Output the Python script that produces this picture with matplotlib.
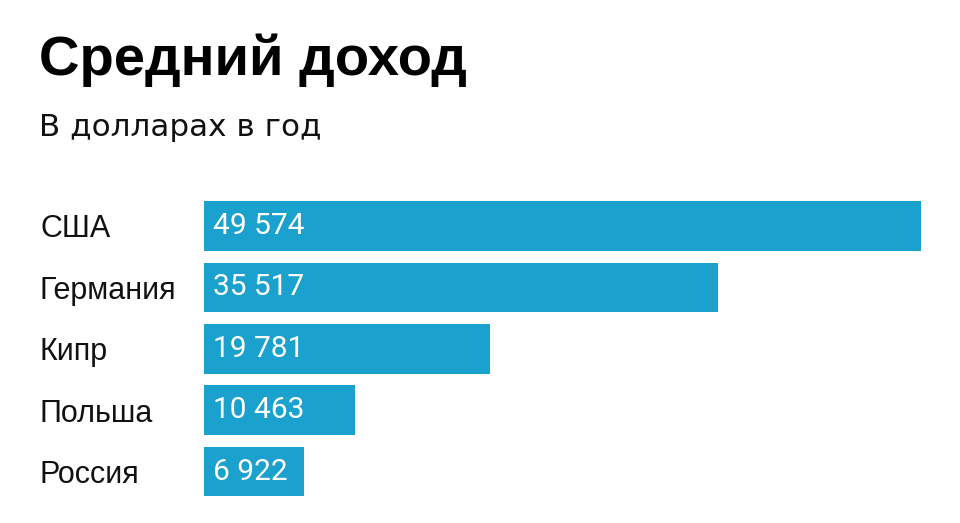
import matplotlib
matplotlib.use("Agg")
import matplotlib.pyplot as plt
from matplotlib.transforms import blended_transform_factory, ScaledTranslation

countries = ["США", "Германия", "Кипр", "Польша", "Россия"]
values = [49574, 35517, 19781, 10463, 6922]
value_labels = ["49 574", "35 517", "19 781", "10 463", "6 922"]

title = "Средний доход"
subtitle = "В долларах в год"
bar_color = "#1ba1cd"

fig = plt.figure(figsize=(9.6, 5.23), dpi=100)
fig.patch.set_facecolor("white")

ax = fig.add_axes([204/960, 1 - 502.2/523, (921-204)/960, (502.2-195.3)/523])
ypos = list(range(len(countries)))
ax.barh(ypos, values, height=0.81, color=bar_color, align="center")
ax.set_xlim(0, max(values))
ax.set_ylim(len(countries) - 0.5, -0.5)
ax.axis("off")

dpi_tr = fig.dpi_scale_trans
lab_tr = blended_transform_factory(fig.transFigure, ax.transData) + ScaledTranslation(0, -11.5/100, dpi_tr)
num_tr = ax.transData + ScaledTranslation(9/100, -8/100, dpi_tr)

for y, c, v, vl in zip(ypos, countries, values, value_labels):
    ax.text(40/960, y, c, transform=lab_tr, ha="left", va="baseline",
            fontsize=22, family=["Liberation Sans", "DejaVu Sans"], color="#111111")
    ax.text(0, y, vl, transform=num_tr, ha="left", va="baseline",
            fontsize=21.5, family=["Roboto", "DejaVu Sans"], color="white")

fig.text(39/960, 1 - 75/523, title, ha="left", va="baseline", fontsize=40.5,
         fontweight="bold", family=["Liberation Sans", "DejaVu Sans"], color="black")
fig.text(39/960, 1 - 136/523, subtitle, ha="left", va="baseline", fontsize=22.3,
         family=["DejaVu Sans"], color="#111111")

fig.savefig("out.png", dpi=100, facecolor="white")
